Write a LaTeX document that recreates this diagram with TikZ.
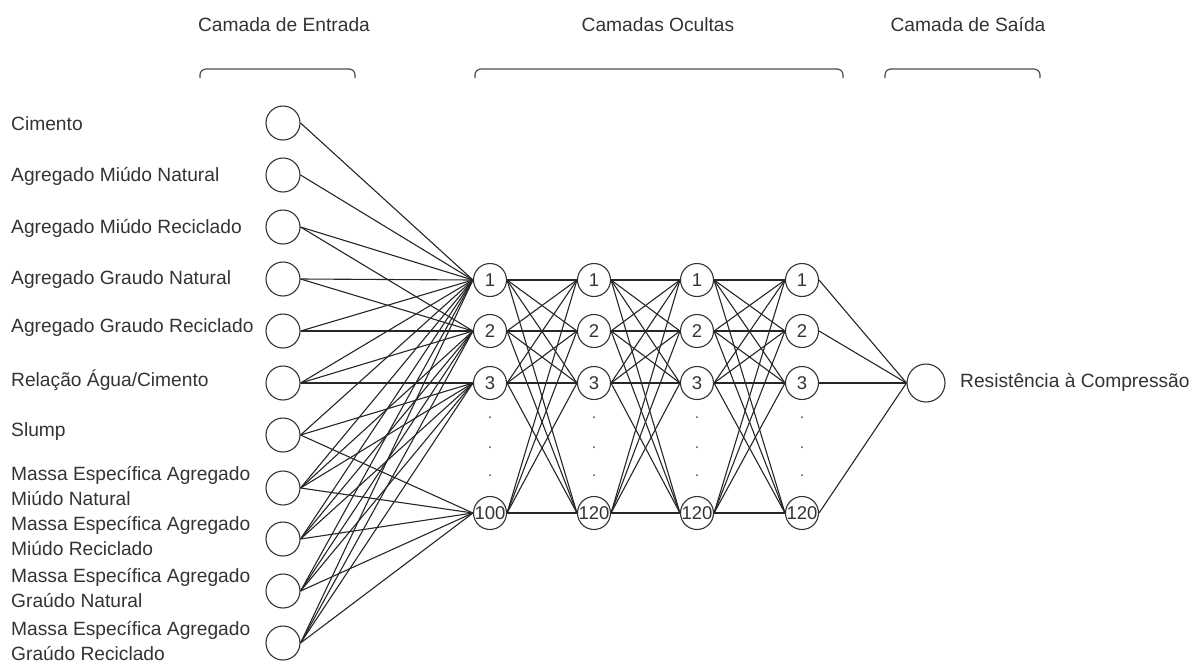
\documentclass[tikz,border=0pt]{standalone}
\usepackage{fontspec}
\setmainfont{Liberation Sans}
\begin{document}
\begin{tikzpicture}[x=1pt,y=-1pt,
  inp/.style={circle,draw=black!80,line width=1.1pt,minimum size=34pt,inner sep=0pt},
  hid/.style={circle,draw=black!80,line width=1.1pt,minimum size=33pt,inner sep=0pt,font=\fontsize{18.5}{20}\selectfont,text=black!80},
  outn/.style={circle,draw=black!80,line width=1.1pt,minimum size=38pt,inner sep=0pt},
  conn/.style={draw=black!85,line width=1.1pt},
  brk/.style={draw=black!70,line width=1.2pt,rounded corners=6pt},
  lab/.style={inner sep=0pt,font=\fontsize{19.2}{25}\selectfont,text=black!80,align=left},
  dotm/.style={fill=black!70}]
\useasboundingbox (0,0) rectangle (1195,665);
\newcommand{\hnum}[1]{\makebox[0pt]{#1}}
% headers and braces
\node[lab] (t1) at (284,25) {Camada de Entrada};
\node[lab] (t2) at (658,25) {Camadas Ocultas};
\node[lab] (t3) at (968,25) {Camada de Saída};
\draw[brk] (200,78) -- (200,69) -- (355,69) -- (355,78);
\draw[brk] (475,78) -- (475,69) -- (843,69) -- (843,78);
\draw[brk] (885,78) -- (885,69) -- (1040,69) -- (1040,78);
% input nodes
\foreach \i/\y in {1/123,2/175,3/227,4/279,5/331,6/383,7/435,8/488,9/539,10/591,11/643}
  \node[inp] (i\i) at (283,\y) {};
% input labels
\node[lab,anchor=west] (l1) at (11,124) {Cimento};
\node[lab,anchor=west] (l2) at (11,176) {Agregado Miúdo Natural};
\node[lab,anchor=west] (l3) at (11,228) {Agregado Miúdo Reciclado};
\node[lab,anchor=west] (l4) at (11,280) {Agregado Graudo Natural};
\node[lab,anchor=west] (l5) at (11,328) {Agregado Graudo Reciclado};
\node[lab,anchor=west] (l6) at (11,380) {Relação Água/Cimento};
\node[lab,anchor=west] (l7) at (11,432) {Slump};
\node[lab,anchor=west] (l8) at (11,486) {Massa Específica Agregado\\Miúdo Natural};
\node[lab,anchor=west] (l9) at (11,536) {Massa Específica Agregado\\Miúdo Reciclado};
\node[lab,anchor=west] (l10) at (11,588) {Massa Específica Agregado\\Graúdo Natural};
\node[lab,anchor=west] (l11) at (11,641) {Massa Específica Agregado\\Graúdo Reciclado};
% hidden layers
\foreach \l/\x/\n in {1/490/100,2/594/120,3/697/120,4/802/120} {
  \node[hid] (h\l1) at (\x,280) {\hnum{1}};
  \node[hid] (h\l2) at (\x,331) {\hnum{2}};
  \node[hid] (h\l3) at (\x,383) {\hnum{3}};
  \node[hid] (h\l4) at (\x,513) {\hnum{\n}};
  \foreach \y in {417,447,475} \fill[dotm] (\x,\y) circle (1pt);
}
% output
\node[outn] (o) at (926,383) {};
\node[lab,anchor=west] (ol) at (960,382) {Resistência à Compressão};
% input -> hidden 1
\foreach \i/\tl in {1/{1},2/{1},3/{1,2},4/{1,2},5/{1,2},6/{1,2,3},7/{1,3,4},8/{1,2,3,4},9/{1,2,3,4},10/{1,2,3,4},11/{1,2,3,4}}
  \foreach \t in \tl \draw[conn] (i\i.east) -- (h1\t.west);
% hidden -> hidden
\foreach \l/\m in {1/2,2/3,3/4}
  \foreach \a in {1,...,4}
    \foreach \b in {1,...,4}
      \draw[conn] (h\l\a.east) -- (h\m\b.west);
% hidden -> output
\foreach \a in {1,...,4} \draw[conn] (h4\a.east) -- (o.west);
\end{tikzpicture}
\end{document}
